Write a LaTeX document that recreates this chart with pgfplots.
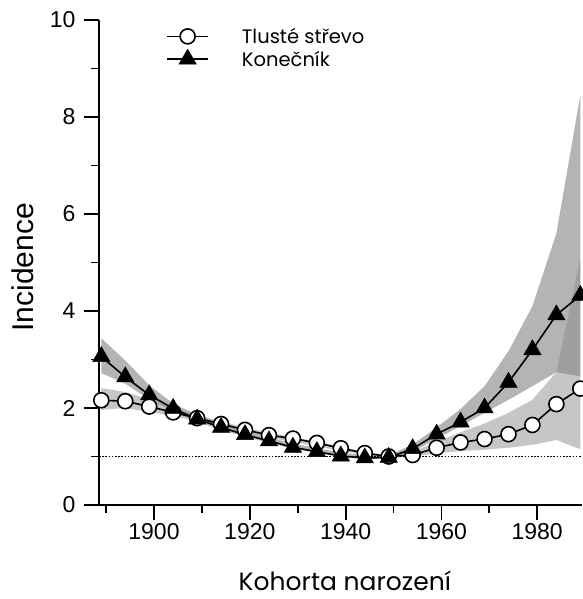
\documentclass[border=0pt]{standalone}
\usepackage{fontspec}
\setmainfont{Liberation Sans}
\newfontfamily\pop{Poppins}
\usepackage{pgfplots}
\pgfplotsset{compat=1.18}
\definecolor{bandT}{gray}{0.706}
\definecolor{bandC}{gray}{0.545}
\begin{document}
\begin{tikzpicture}
\begin{axis}[
  width=483pt, height=485pt, scale only axis,
  xmin=1888.52, xmax=1989.35, ymin=0, ymax=10,
  axis lines=left, axis line style={-, line width=1.8pt},
  tick align=outside,
  major tick length=15pt, minor tick length=8pt,
  every tick/.style={black, line width=1.8pt},
  xtick={1900,1920,1940,1960,1980}, minor xtick={1890,1910,1930,1950,1970},
  ytick={0,2,4,6,8,10}, minor ytick={1,3,5,7,9},
  /pgf/number format/assume math mode=true,
  xticklabel style={/pgf/number format/1000 sep={}},
  yticklabel style={xshift=-5pt},
  ticklabel style={font=\fontsize{23}{27}\selectfont},
  xlabel={Kohorta narození},
  ylabel={Incidence},
  every axis x label/.style={at={(axis description cs:0.509,-0.1753)}, anchor=base, font=\pop\fontsize{25}{29}\selectfont},
  every axis y label/.style={at={(axis description cs:-0.1366,0.49)}, rotate=90, anchor=base, font=\fontsize{30}{34}\selectfont},
  legend style={at={(axis description cs:0.139,0.988)}, anchor=north west, draw=none, fill=none,
    font=\pop\fontsize{19.5}{23}\selectfont, row sep=2pt, inner sep=0pt, nodes={inner sep=2pt}},
  legend cell align=left,
  legend image code/.code={
    \draw[mark repeat=2,mark phase=2] plot coordinates {(0pt,0pt) (20.5pt,0pt) (41pt,0pt)};
    \path (72pt,0pt);
  },
]
\coordinate (O) at (rel axis cs:0,0);
% Konečník band
\addplot[draw=none, fill=bandT, forget plot] coordinates {
(1889,3.44) (1894,2.98) (1899,2.47) (1904,2.09) (1909,1.86) (1914,1.68) (1919,1.52) (1924,1.39) (1929,1.27) (1934,1.17) (1939,1.08) (1944,1.03) (1949,1.02) (1954,1.25) (1959,1.60) (1964,1.98) (1969,2.45) (1974,3.17) (1979,4.10) (1984,5.60) (1989,8.45)
(1989,2.65) (1984,2.74) (1979,2.45) (1974,2.17) (1969,1.90) (1964,1.63) (1959,1.36) (1954,1.10) (1949,0.95) (1944,0.95) (1939,0.99) (1934,1.07) (1929,1.16) (1924,1.28) (1919,1.41) (1914,1.55) (1909,1.72) (1904,1.93) (1899,2.18) (1894,2.50) (1889,2.72)
};
% Tlusté střevo band
\addplot[draw=none, fill=bandC, fill opacity=0.49, forget plot] coordinates {
(1889,2.41) (1894,2.33) (1899,2.18) (1904,2.01) (1909,1.86) (1914,1.72) (1919,1.60) (1924,1.49) (1929,1.40) (1934,1.31) (1939,1.20) (1944,1.10) (1949,1.03) (1954,1.10) (1959,1.30) (1964,1.50) (1969,1.68) (1974,1.90) (1979,2.17) (1984,2.74) (1989,5.09)
(1989,1.15) (1984,1.34) (1979,1.24) (1974,1.18) (1969,1.14) (1964,1.11) (1959,1.07) (1954,0.99) (1949,0.97) (1944,1.03) (1939,1.12) (1934,1.21) (1929,1.30) (1924,1.39) (1919,1.50) (1914,1.62) (1909,1.73) (1904,1.83) (1899,1.92) (1894,2.00) (1889,1.96)
};
\addplot[black, line width=0.8pt, dash pattern=on 1.6pt off 1.6pt, forget plot] coordinates {(1888.52,1) (1989.35,1)};
\addplot[black, line width=1.6pt, mark=*, mark size=7.5pt, mark options={fill=white, draw=black, line width=1.6pt}] coordinates {
(1889,2.16) (1894,2.14) (1899,2.03) (1904,1.91) (1909,1.79) (1914,1.67) (1919,1.55) (1924,1.44) (1929,1.37) (1934,1.28) (1939,1.17) (1944,1.07) (1949,1.00) (1954,1.03) (1959,1.18) (1964,1.29) (1969,1.36) (1974,1.46) (1979,1.65) (1984,2.08) (1989,2.40)
};
\addlegendentry{Tlusté střevo}
\addplot[black, line width=1.6pt, mark=triangle*, mark size=10pt, mark options={fill=black, draw=black, line width=0.5pt}] coordinates {
(1889,3.06) (1894,2.64) (1899,2.27) (1904,1.99) (1909,1.77) (1914,1.60) (1919,1.45) (1924,1.32) (1929,1.19) (1934,1.10) (1939,1.01) (1944,0.97) (1949,0.98) (1954,1.16) (1959,1.46) (1964,1.71) (1969,2.00) (1974,2.53) (1979,3.20) (1984,3.92) (1989,4.32)
};
\addlegendentry{Konečník}
\end{axis}
\pgfresetboundingbox
\path (O) ++(-99pt,-94pt) rectangle ++(582pt,599pt);
\end{tikzpicture}
\end{document}
